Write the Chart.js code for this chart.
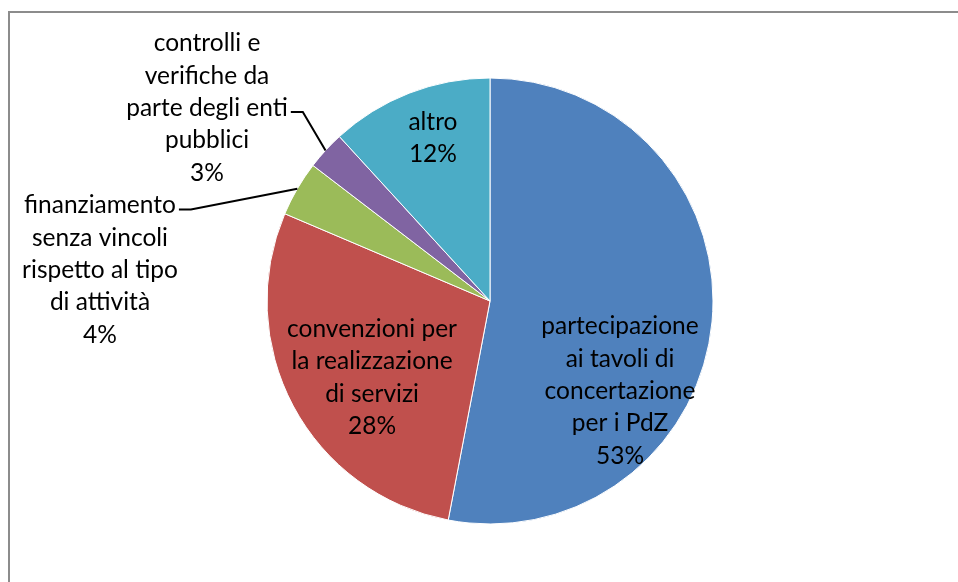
<!DOCTYPE html>
<html>
<head>
<meta charset="utf-8">
<script src="https://cdn.jsdelivr.net/npm/chart.js@4.4.0/dist/chart.umd.min.js"></script>
<style>
    html, body { margin: 0; padding: 0; background: #ffffff; }
    #wrap { position: relative; width: 958px; height: 582px; }
</style>
</head>
<body>
<div id="wrap"><canvas id="pieChart" width="958" height="582"></canvas></div>
<script>
// Pie data (clockwise from 12 o'clock)
const categories = [
    ['partecipazione', 'ai tavoli di', 'concertazione', 'per i PdZ'],
    ['convenzioni per', 'la realizzazione', 'di servizi'],
    ['finanziamento', 'senza vincoli', 'rispetto al tipo', 'di attività'],
    ['controlli e', 'verifiche da', 'parte degli enti', 'pubblici'],
    ['altro']
];
const values = [53.0, 28.4, 4.0, 2.8, 11.8];
const sliceColors = ['#4F81BD', '#C0504D', '#9BBB59', '#8064A2', '#4BACC6'];

// Label anchor, in units of the pie radius from its centre; leader = line index the leader starts from
const labelLayout = [
    { dx: 0.583, dy: 0.404, leader: null },
    { dx: -0.529, dy: 0.343, leader: null },
    { dx: -1.749, dy: -0.139, leader: 0 },
    { dx: -1.269, dy: -0.865, leader: 2 },
    { dx: -0.256, dy: -0.731, leader: null }
];

const LINE_H = 32.3;

// Frame and data labels
const frameAndLabels = {
    id: 'frameAndLabels',
    beforeDraw(chart) {
        const ctx = chart.ctx;
        ctx.save();
        ctx.strokeStyle = '#8c8c8c';
        ctx.lineWidth = 2;
        ctx.beginPath();
        ctx.moveTo(9, 582);
        ctx.lineTo(9, 12);
        ctx.lineTo(958, 12);
        ctx.stroke();
        ctx.restore();
    },
    afterDatasetsDraw(chart) {
        const ctx = chart.ctx;
        const arcs = chart.getDatasetMeta(0).data;
        const total = values.reduce((a, b) => a + b, 0);
        ctx.save();
        ctx.font = '24.5px Lato';
        ctx.fillStyle = '#000000';
        ctx.textAlign = 'center';
        ctx.textBaseline = 'middle';
        arcs.forEach((arc, i) => {
            const p = arc.getProps(['x', 'y', 'outerRadius', 'startAngle', 'endAngle'], true);
            const lay = labelLayout[i];
            const lines = categories[i].concat(Math.round(values[i] / total * 100) + '%');
            const cx = p.x + lay.dx * p.outerRadius;
            const cy = p.y + lay.dy * p.outerRadius;
            const top = cy - (lines.length - 1) * LINE_H / 2;
            lines.forEach((t, k) => ctx.fillText(t, cx, top + k * LINE_H));

            if (lay.leader !== null) {
                const k = lay.leader;
                const ly = top + k * LINE_H + 4;
                const lx = cx + ctx.measureText(lines[k]).width / 2 + 3;
                const mid = (p.startAngle + p.endAngle) / 2;
                const ex = p.x + Math.cos(mid) * p.outerRadius;
                const ey = p.y + Math.sin(mid) * p.outerRadius;
                ctx.strokeStyle = '#000000';
                ctx.lineWidth = 2;
                ctx.beginPath();
                ctx.moveTo(lx, ly);
                ctx.lineTo(lx + 12, ly);
                ctx.lineTo(ex, ey);
                ctx.stroke();
            }
        });
        ctx.restore();
    }
};

const ctx = document.getElementById('pieChart').getContext('2d');
const pieChart = new Chart(ctx, {
    type: 'pie',
    data: {
        labels: categories.map(c => c.join(' ')),
        datasets: [{
            data: values,
            backgroundColor: sliceColors,
            borderColor: '#ffffff',
            borderWidth: 1,
            radius: 223
        }]
    },
    options: {
        responsive: false,
        devicePixelRatio: 1,
        animation: false,
        layout: {
            padding: { left: 267, right: 245, top: 78, bottom: 58 }
        },
        plugins: {
            legend: { display: false },
            tooltip: { enabled: false }
        }
    },
    plugins: [frameAndLabels]
});
</script>
</body>
</html>
